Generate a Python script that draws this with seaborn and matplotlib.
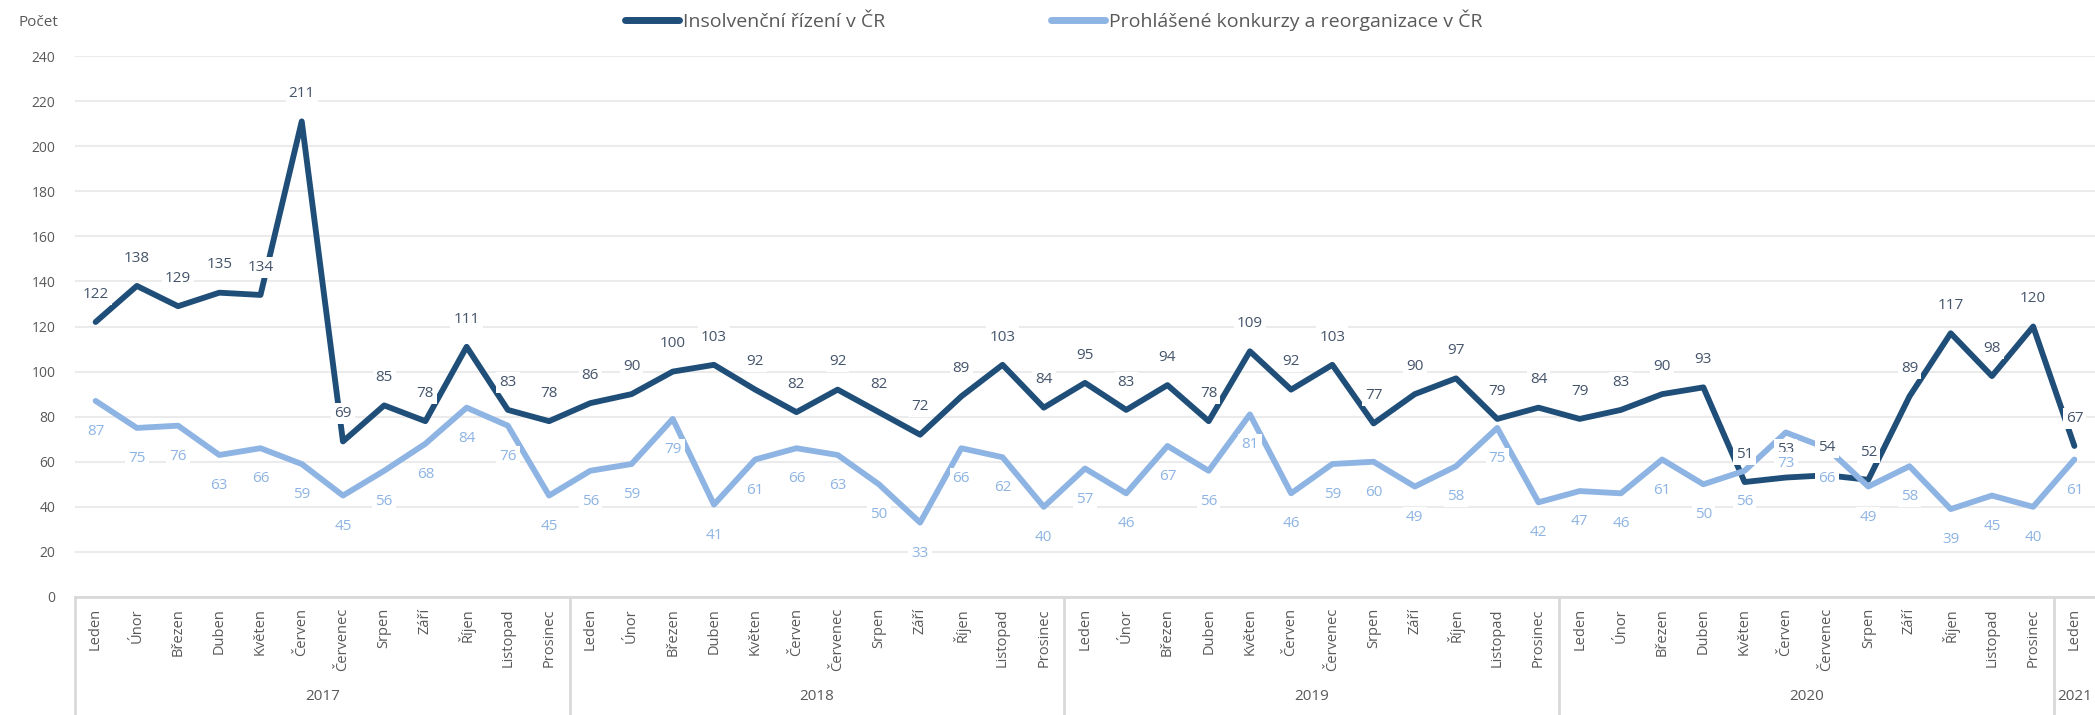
import matplotlib
matplotlib.use("Agg")
import matplotlib.pyplot as plt
import numpy as np
import pandas as pd
import seaborn as sns

# data
months = ["Leden", "Únor", "Březen", "Duben", "Květen", "Červen",
          "Červenec", "Srpen", "Září", "Říjen", "Listopad", "Prosinec"]
years = ["2017", "2018", "2019", "2020", "2021"]
month_labels = months * 4 + ["Leden"]

insolvence = [122, 138, 129, 135, 134, 211, 69, 85, 78, 111, 83, 78,
              86, 90, 100, 103, 92, 82, 92, 82, 72, 89, 103, 84,
              95, 83, 94, 78, 109, 92, 103, 77, 90, 97, 79, 84,
              79, 83, 90, 93, 51, 53, 54, 52, 89, 117, 98, 120,
              67]
konkurzy = [87, 75, 76, 63, 66, 59, 45, 56, 68, 84, 76, 45,
            56, 59, 79, 41, 61, 66, 63, 50, 33, 66, 62, 40,
            57, 46, 67, 56, 81, 46, 59, 60, 49, 58, 75, 42,
            47, 46, 61, 50, 56, 73, 66, 49, 58, 39, 45, 40,
            61]

name1 = "Insolvenční řízení v ČR"
name2 = "Prohlášené konkurzy a reorganizace v ČR"
dark = "#1F4E79"
light = "#8EB4E3"

n = len(insolvence)
df = pd.DataFrame({
    "idx": list(range(n)) * 2,
    "hodnota": insolvence + konkurzy,
    "rada": [name1] * n + [name2] * n,
})

sns.set_theme(style="white")
plt.rcParams["font.family"] = ["Open Sans", "DejaVu Sans"]

fig = plt.figure(figsize=(20.95, 7.15), dpi=100)
ax = fig.add_axes([75 / 2095, 1 - 597 / 715, 1 - 75 / 2095, (597 - 56) / 715])

sns.lineplot(data=df, x="idx", y="hodnota", hue="rada",
             palette={name1: dark, name2: light}, linewidth=4.2,
             ax=ax, legend=True, zorder=3)

# popisky hodnot
for i in range(n):
    ax.annotate(str(insolvence[i]), (i, insolvence[i]), xytext=(0, 20),
                textcoords="offset points", ha="center", va="center",
                fontsize=11, color="#44546A", zorder=5,
                bbox=dict(boxstyle="square,pad=0.2", fc="white", ec="none"))
    ax.annotate(str(konkurzy[i]), (i, konkurzy[i]), xytext=(0, -22),
                textcoords="offset points", ha="center", va="center",
                fontsize=11, color=light, zorder=5,
                bbox=dict(boxstyle="square,pad=0.2", fc="white", ec="none"))

ax.set_xlim(-0.5, n - 0.5)
ax.set_ylim(0, 240)
ax.set_yticks(range(0, 241, 20))
ax.yaxis.grid(True, color="#EBEBEB", linewidth=1.5)
ax.set_axisbelow(True)
for s in ["top", "right", "left"]:
    ax.spines[s].set_visible(False)
ax.spines["bottom"].set_color("#D9D9D9")
ax.spines["bottom"].set_linewidth(2)

ax.set_xticks(range(n))
ax.set_xticklabels(month_labels, rotation=90, va="top", ha="center")
ax.tick_params(axis="x", length=0, pad=8, labelsize=10.5, labelcolor="#595959")
ax.tick_params(axis="y", length=0, pad=14, labelsize=10, labelcolor="#595959")
ax.set_xlabel("")
ax.set_ylabel("")

# oddelovace roku a popisky roku
trans = ax.get_xaxis_transform()
y_bottom = -(1 - 597 / 715) / ((597 - 56) / 715)
for b in [-0.5, 11.5, 23.5, 35.5, 47.5]:
    ax.plot([b, b], [0, y_bottom], transform=trans, color="#D9D9D9",
            linewidth=2, clip_on=False)
y_year = ((715 - 697) / 715 - (1 - 597 / 715)) / ((597 - 56) / 715)
for k, yr in enumerate(years):
    start = k * 12
    end = min(start + 11, n - 1)
    ax.text((start + end) / 2, y_year, yr, transform=trans, ha="center",
            va="center", fontsize=11, color="#595959")

fig.text(18 / 2095, 1 - 22 / 715, "Počet", ha="left", va="center",
         fontsize=11, color="#595959")

handles, labels = ax.get_legend_handles_labels()
ax.get_legend().remove()
leg = fig.legend(handles, labels, loc="center", bbox_to_anchor=(0.503, 1 - 20 / 715),
                 ncol=2, frameon=False, fontsize=14, handlelength=2.8,
                 handletextpad=0.2, columnspacing=8.5)
for t in leg.get_texts():
    t.set_color("#595959")
for h in leg.get_lines():
    h.set_linewidth(5)
    h.set_solid_capstyle("round")

fig.savefig("out.png", dpi=100)
